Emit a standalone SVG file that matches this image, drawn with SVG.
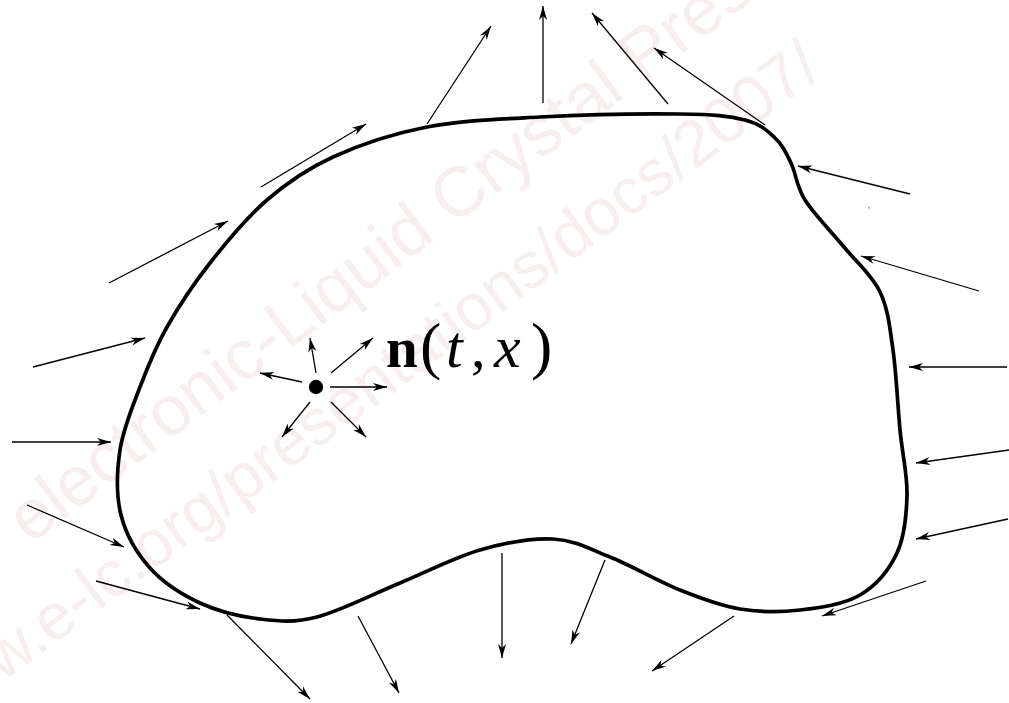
<svg xmlns="http://www.w3.org/2000/svg" width="1009" height="703" viewBox="0 0 1009 703">
<style>
.wm{font-family:"Liberation Sans",Arial,sans-serif;fill:#f7eeee}
.ar{stroke:#000;stroke-width:1.3;fill:none;marker-end:url(#ah)}
.lbl{font-family:"Liberation Serif","Times New Roman",serif;fill:#000}
</style>
<defs>
<marker id="ah" viewBox="-15 -5 16 10" refX="0" refY="0" markerWidth="16" markerHeight="10" markerUnits="userSpaceOnUse" orient="auto">
<path d="M0,0 L-14,-4 L-10,0 L-14,4 Z" fill="#000"/>
</marker>
</defs>
<rect width="1009" height="703" fill="#fff"/>
<g id="watermark">
<text class="wm" font-size="70" x="30" y="545" transform="rotate(-37 30 545)">electronic-Liquid Crystal Presentations</text>
<text class="wm" font-size="65" x="-73" y="738" transform="rotate(-36.5 -73 738)">www.e-lc.org/presentations/docs/2007/</text>
</g>
<g id="region">
<path d="M267,200 C287.5,182.3 306.3,169.2 333,157 C359.7,144.8 392.5,133.7 427,127 C461.5,120.3 497.8,119.2 540,117 C582.2,114.8 645.8,113.5 680,114 C714.2,114.5 729.2,116 745,120 C760.8,124 767.3,130.8 775,138 C782.7,145.2 786,152.7 791,163 C796,173.3 796.2,186 805,200 C813.8,214 831.5,231.7 844,247 C856.5,262.3 871.8,274.8 880,292 C888.2,309.2 889.7,327 893,350 C896.3,373 897.7,405.8 900,430 C902.3,454.2 907.5,474.5 907,495 C906.5,515.5 904.8,536.3 897,553 C889.2,569.7 876.2,585.5 860,595 C843.8,604.5 820,607.7 800,610 C780,612.3 760,612.3 740,609 C720,605.7 701.7,598.7 680,590 C658.3,581.3 631.2,565.5 610,557 C588.8,548.5 574.7,540.2 553,539 C531.3,537.8 505.5,542.7 480,550 C454.5,557.3 427.2,571.8 400,583 C372.8,594.2 340.3,611 317,617 C293.7,623 279.5,621.3 260,619 C240.5,616.7 218.3,611.5 200,603 C181.7,594.5 163.2,582.7 150,568 C136.8,553.3 126,534.7 121,515 C116,495.3 116.8,471.3 120,450 C123.2,428.7 132.2,407.5 140,387 C147.8,366.5 155.3,347.7 167,327 C178.7,306.3 193.3,284.2 210,263 C226.7,241.8 246.5,217.7 267,200 Z" fill="none" stroke="#000" stroke-width="3.7" stroke-linejoin="round"/>
</g>
<g id="point">
<circle cx="316" cy="387" r="7.2" fill="#000"/>
</g>
<g id="label">
<text class="lbl" y="367"><tspan x="386" font-size="57" font-weight="bold">n</tspan><tspan x="420" font-size="64">(</tspan><tspan x="446" font-size="60" font-style="italic">t</tspan><tspan x="471" font-size="58">,</tspan><tspan x="494" font-size="60" font-style="italic">x</tspan><tspan x="531" font-size="64">)</tspan></text>
</g>
<g id="connectors">
<line class="ar" x1="427" y1="124" x2="491" y2="26"/>
<line class="ar" x1="543" y1="103" x2="543" y2="6"/>
<line class="ar" x1="668" y1="104" x2="592" y2="13"/>
<line class="ar" x1="765" y1="125" x2="654" y2="48"/>
<line class="ar" x1="261" y1="187" x2="366" y2="124"/>
<line class="ar" x1="109" y1="283" x2="228" y2="221"/>
<line class="ar" x1="33" y1="367" x2="145" y2="338"/>
<line class="ar" x1="12" y1="442" x2="111" y2="442"/>
<line class="ar" x1="27" y1="505" x2="124" y2="547"/>
<line class="ar" x1="96" y1="581" x2="200" y2="609"/>
<line class="ar" x1="227" y1="615" x2="310" y2="699"/>
<line class="ar" x1="358" y1="616" x2="399" y2="693"/>
<line class="ar" x1="502" y1="553" x2="502" y2="658"/>
<line class="ar" x1="605" y1="560" x2="571" y2="644"/>
<line class="ar" x1="734" y1="616" x2="652" y2="671"/>
<line class="ar" x1="926" y1="581" x2="822" y2="616"/>
<line class="ar" x1="1008" y1="519" x2="916" y2="539"/>
<line class="ar" x1="1007" y1="367" x2="909" y2="367"/>
<line class="ar" x1="1009" y1="450" x2="916" y2="463"/>
<line class="ar" x1="979" y1="291" x2="861" y2="256"/>
<line class="ar" x1="910" y1="194" x2="798" y2="166"/>
<line class="ar" x1="316" y1="373" x2="310" y2="338"/>
<line class="ar" x1="331" y1="373" x2="373" y2="338"/>
<line class="ar" x1="302" y1="382" x2="260" y2="373"/>
<line class="ar" x1="330" y1="387" x2="387" y2="387"/>
<line class="ar" x1="310" y1="402" x2="282" y2="437"/>
<line class="ar" x1="331" y1="402" x2="366" y2="437"/>
</g>
<rect x="868" y="207" width="1.5" height="1.5" fill="#888"/>
</svg>
